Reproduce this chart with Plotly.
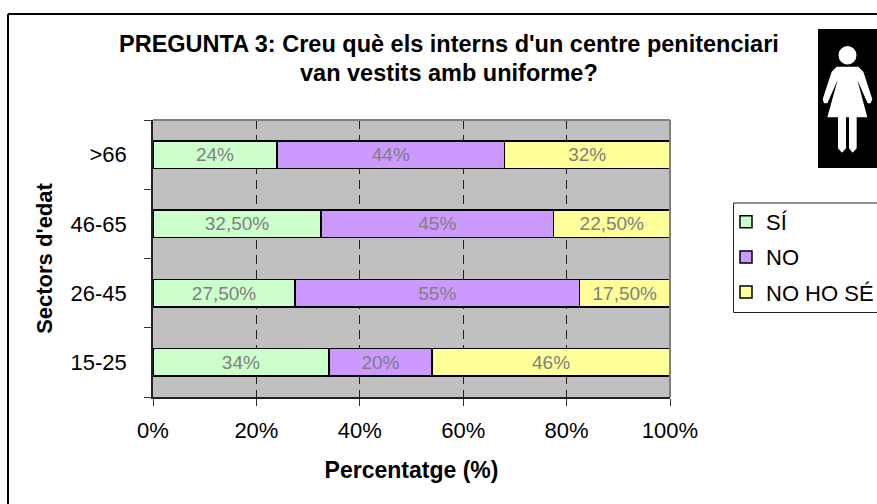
import plotly.graph_objects as go

categories = ["15-25", "26-45", "46-65", ">66"]
si_values = [34, 27.5, 32.5, 24]
no_values = [20, 55, 45, 44]
nose_values = [46, 17.5, 22.5, 32]
si_labels = ["34%", "27,50%", "32,50%", "24%"]
no_labels = ["20%", "55%", "45%", "44%"]
nose_labels = ["46%", "17,50%", "22,50%", "32%"]
series_names = ["SÍ", "NO", "NO HO SÉ"]
series_colors = ["#CCFFCC", "#CC99FF", "#FFFF99"]
x_ticks = [0, 20, 40, 60, 80, 100]
title_lines = ["PREGUNTA 3: Creu què els interns d'un centre penitenciari", "van vestits amb uniforme?"]

FONT = "Liberation Sans, Arial, sans-serif"
W, H = 877, 504
L, R, T, B = 153, 670, 120, 397


def px(x):
    return (x - L) / (R - L)


def py(y):
    return (B - y) / (B - T)


def pth(points):
    # icon outline, traced in zoomed-crop coordinates
    out = []
    for i, (a, b) in enumerate(points):
        out.append(("M" if i == 0 else "L") + f"{px(800 + a / 3):.5f},{py(b / 3):.5f}")
    return " ".join(out) + " Z"


fig = go.Figure()
for name, vals, labs, col in zip(series_names, [si_values, no_values, nose_values],
                                 [si_labels, no_labels, nose_labels], series_colors):
    fig.add_trace(go.Bar(
        y=categories, x=vals, name=name, orientation="h", legendgroup=name,
        text=labs, textposition="inside", insidetextanchor="middle", textangle=0,
        textfont=dict(family=FONT, size=19, color="#808080"),
        constraintext="none",
        marker=dict(color=col, line=dict(color="#000000", width=1.5)),
        hoverinfo="skip",
    ))

woman = [(110, 200), (175, 200), (190, 215), (217, 298), (212, 310), (203, 310), (172, 240), (202, 352),
         (170, 352), (170, 445), (158, 458), (147, 445), (147, 352), (138, 352), (138, 445), (126, 458),
         (114, 445), (114, 352), (82, 352), (113, 240), (82, 310), (72, 310), (68, 298), (95, 215)]

shapes = [
    # outer frame
    dict(type="line", xref="paper", yref="paper", x0=px(8), x1=px(8), y0=py(14), y1=py(504),
         line=dict(color="black", width=2)),
    dict(type="line", xref="paper", yref="paper", x0=px(8), x1=px(877), y0=py(14), y1=py(14),
         line=dict(color="black", width=2)),
    # top / right plot edge
    dict(type="line", xref="paper", yref="paper", x0=0, x1=1, y0=1, y1=1, line=dict(color="#808080", width=2)),
    dict(type="line", xref="paper", yref="paper", x0=1, x1=1, y0=0, y1=1, line=dict(color="#808080", width=2)),
    # legend frame
    dict(type="rect", xref="paper", yref="paper", x0=px(733.5), x1=px(880), y0=py(203), y1=py(312.5),
         line=dict(color="#222222", width=1)),
    # icon
    dict(type="rect", xref="paper", yref="paper", x0=px(818), x1=px(877), y0=py(29), y1=py(168),
         fillcolor="black", line=dict(width=0)),
    dict(type="circle", xref="paper", yref="paper", x0=px(838.5), x1=px(856.5), y0=py(46), y1=py(64.5),
         fillcolor="white", line=dict(width=0)),
    dict(type="path", xref="paper", yref="paper", path=pth(woman), fillcolor="white", line=dict(width=0)),
]

annotations = [
    dict(text=f"<b>{title_lines[0]}</b>", xref="paper", yref="paper", x=px(449), y=py(43.5), showarrow=False,
         xanchor="center", yanchor="middle", font=dict(family=FONT, size=23.5, color="black")),
    dict(text=f"<b>{title_lines[1]}</b>", xref="paper", yref="paper", x=px(449), y=py(73), showarrow=False,
         xanchor="center", yanchor="middle", font=dict(family=FONT, size=23.5, color="black")),
]

fig.update_layout(
    width=W, height=H, autosize=False,
    margin=dict(l=L, r=W - R, t=T, b=H - B, autoexpand=False),
    paper_bgcolor="white", plot_bgcolor="#C0C0C0",
    barmode="stack", bargap=0.6,
    font=dict(family=FONT, size=22, color="black"),
    shapes=shapes, annotations=annotations,
    legend=dict(x=px(726), y=py(201), xanchor="left", yanchor="top", traceorder="grouped",
                tracegroupgap=3.5, bgcolor="rgba(0,0,0,0)", borderwidth=0,
                font=dict(family=FONT, size=22, color="black")),
    xaxis=dict(range=[0, 100], tickvals=x_ticks, ticktext=[f"{v}%" for v in x_ticks],
               ticks="outside", ticklen=7, tickcolor="#333333", tickwidth=1, ticklabelstandoff=6,
               showgrid=True, gridcolor="#222222", griddash="9px,6px", gridwidth=1, zeroline=False,
               showline=True, linecolor="#222222", linewidth=1.5,
               tickfont=dict(size=22, family=FONT),
               title=dict(text="<b>Percentatge (%)</b>", standoff=20, font=dict(family=FONT, size=23))),
    yaxis=dict(type="category", categoryorder="array", categoryarray=categories,
               tickson="boundaries", ticks="outside", ticklen=7, tickcolor="#333333", tickwidth=1,
               ticklabelstandoff=20, showgrid=False, zeroline=False,
               showline=True, linecolor="#222222", linewidth=1.5,
               tickfont=dict(size=22, family=FONT),
               title=dict(text="<b>Sectors d'edat</b>", standoff=12, font=dict(family=FONT, size=22))),
)
fig.write_html("out.html", post_script="document.body.style.margin='0';",
               config=dict(displayModeBar=False))
